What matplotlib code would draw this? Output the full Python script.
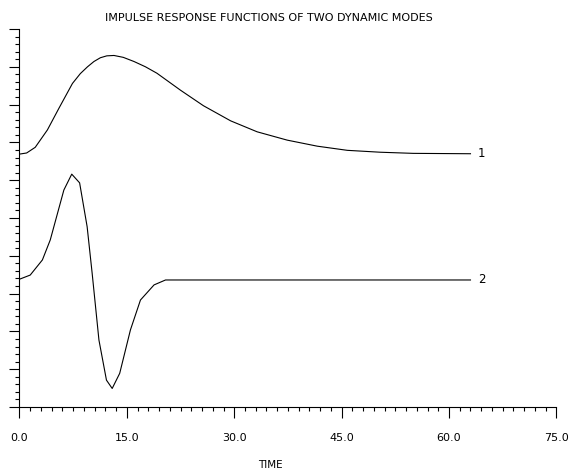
import matplotlib
matplotlib.use('Agg')
import matplotlib.pyplot as plt
import numpy as np

# mode 1
t1 = [0.0, 1.0, 2.2, 3.9, 5.5, 7.4, 8.5, 9.5, 10.4, 11.3, 12.2, 13.2, 14.5,
      16.0, 17.6, 19.2, 22.5, 25.7, 29.5, 33.2, 37.4, 41.6, 45.8, 50.4, 55.0, 63.0]
y1 = [6.69, 6.72, 6.87, 7.33, 7.90, 8.56, 8.82, 9.00, 9.14, 9.24, 9.29, 9.30,
      9.25, 9.14, 9.00, 8.83, 8.38, 7.97, 7.57, 7.28, 7.06, 6.90, 6.79, 6.74, 6.71, 6.70]

# mode 2
t2 = [0.0, 1.5, 3.2, 4.3, 6.2, 7.3, 8.4, 9.45, 10.15, 11.1, 12.15, 12.95, 14.0,
      15.5, 16.9, 18.8, 20.4, 63.0]
y2 = [3.38, 3.49, 3.89, 4.42, 5.74, 6.16, 5.93, 4.77, 3.54, 1.77, 0.71, 0.49,
      0.89, 2.04, 2.83, 3.23, 3.36, 3.36]

labels = ['1', '2']

fig = plt.figure(figsize=(5.73, 4.74), dpi=100)
ax = fig.add_axes([0.034, 0.1414, 0.937, 0.7974])

ax.plot(t1, y1, color='black', lw=0.8)
ax.plot(t2, y2, color='black', lw=0.8)
ax.text(64.0, y1[-1], labels[0], fontsize=8.5, va='center', ha='left')
ax.text(64.0, y2[-1], labels[1], fontsize=8.5, va='center', ha='left')

ax.set_xlim(0, 75)
ax.set_ylim(0, 10)
ax.spines['top'].set_visible(False)
ax.spines['right'].set_visible(False)
for s in ['left', 'bottom']:
    ax.spines[s].set_linewidth(0.8)

ax.set_xticks(np.arange(0, 76, 15))
ax.set_xticks(np.arange(0, 75.1, 1.5), minor=True)
ax.set_xticklabels(['0.0', '15.0', '30.0', '45.0', '60.0', '75.0'], fontsize=8)
ax.set_yticks(np.arange(0, 11, 1))
ax.set_yticks(np.arange(0, 10.01, 0.2), minor=True)
ax.set_yticklabels([])
ax.tick_params(axis='x', which='major', direction='out', length=8, width=0.8, pad=11)
ax.tick_params(axis='x', which='minor', direction='out', length=3, width=0.8)
ax.tick_params(axis='y', which='major', direction='out', length=7, width=0.8)
ax.tick_params(axis='y', which='minor', direction='out', length=3, width=0.8)

fig.text(269 / 573, 1 - 18 / 474, 'IMPULSE RESPONSE FUNCTIONS OF TWO DYNAMIC MODES',
         fontsize=8, ha='center', va='center')
fig.text(270 / 573, 1 - 465 / 474, 'TIME', fontsize=7.5, ha='center', va='center')

fig.savefig('out.png', dpi=100)
